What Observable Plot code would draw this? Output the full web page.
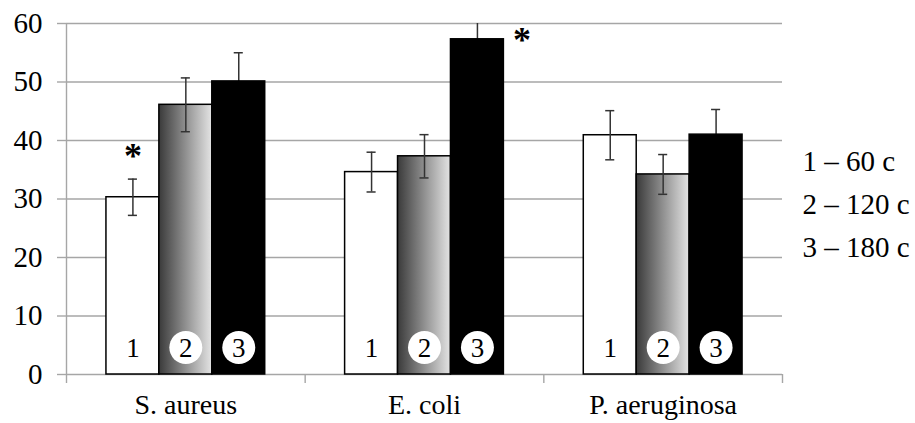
<!DOCTYPE html>
<html><head><meta charset="utf-8">
<script src="https://cdn.jsdelivr.net/npm/d3@7"></script>
<script src="https://cdn.jsdelivr.net/npm/@observablehq/plot@0.6"></script>
<style>body{margin:0;background:#fff}</style>
</head><body><div id="chart"></div>
<script>
const categories = ["S. aureus", "E. coli", "P. aeruginosa"];
const seriesKeys = [1, 2, 3];
const seriesLabels = ["1 – 60 c", "2 – 120 c", "3 – 180 c"];
const mean60 = [30.3, 34.6, 40.9];
const mean120 = [46.1, 37.3, 34.2];
const mean180 = [50.1, 57.3, 41.0];
const err60 = [3.1, 3.4, 4.2];
const err120 = [4.6, 3.7, 3.4];
const err180 = [4.9, 3.5, 4.3];
const yTicks = [0, 10, 20, 30, 40, 50, 60];
const stars = [["S. aureus", 1], ["E. coli", 3]];

const means = [mean60, mean120, mean180];
const errs = [err60, err120, err180];
const rows = seriesKeys.flatMap((s, si) => categories.map((c, ci) => ({
  category: c, ci, series: s, value: means[si][ci], err: errs[si][ci]
})));

const GAP = 40 / 239, BW = 53 / 239, CAP = 0.019;
const bx1 = d => d.ci + GAP + (d.series - 1) * BW;
const bx2 = d => bx1(d) + BW;
const bxc = d => bx1(d) + BW / 2;
const bySeries = s => rows.filter(d => d.series === s);
const grid = "#a6a6a6";
const serif = "Liberation Serif";
const starRows = stars.map(([c, s]) => rows.find(r => r.category === c && r.series === s));

const svg = Plot.plot({
  width: 915, height: 423,
  marginLeft: 66, marginRight: 133, marginTop: 23, marginBottom: 49,
  style: {fontFamily: serif, fontSize: "29px"},
  x: {domain: [0, 3], axis: null},
  y: {domain: [0, 60], axis: null},
  marks: [
    Plot.gridY(yTicks, {stroke: grid, strokeOpacity: 1, strokeWidth: 1.4}),
    Plot.ruleX([0], {stroke: grid, strokeWidth: 1.4}),
    Plot.axisY(yTicks, {tickSize: 9, tickPadding: 15, fontSize: 29, stroke: grid, strokeWidth: 1.4, fill: "black", label: null}),
    Plot.axisX([0, 1, 2, 3], {tickSize: 9, tickFormat: () => "", stroke: grid, strokeWidth: 1.4, label: null}),
    Plot.axisX([0.5, 1.5, 2.5], {tickSize: 0, tickPadding: 20, tickFormat: d => categories[Math.floor(d)], fontSize: 28, fill: "black", label: null}),
    Plot.rect(bySeries(1), {x1: bx1, x2: bx2, y1: 0, y2: "value", fill: "white", stroke: "black", strokeWidth: 1.5}),
    Plot.rect(bySeries(2), {x1: bx1, x2: bx2, y1: 0, y2: "value", fill: "url(#grad120)", stroke: "black", strokeWidth: 1.5}),
    Plot.ruleX(rows, {x: bxc, y1: d => d.value - d.err, y2: d => d.value + d.err, stroke: "#333", strokeWidth: 1.5, clip: true}),
    Plot.ruleY(rows, {y: d => d.value + d.err, x1: d => bxc(d) - CAP, x2: d => bxc(d) + CAP, stroke: "#333", strokeWidth: 1.5, clip: true}),
    Plot.ruleY(rows, {y: d => d.value - d.err, x1: d => bxc(d) - CAP, x2: d => bxc(d) + CAP, stroke: "#333", strokeWidth: 1.5, clip: true}),
    Plot.rect(bySeries(3), {x1: bx1, x2: bx2, y1: 0, y2: "value", fill: "black", stroke: "black", strokeWidth: 1.5}),
    Plot.dot(rows.filter(d => d.series > 1), {x: bxc, frameAnchor: "bottom", dy: -27, r: 16.5, fill: "white", stroke: "none"}),
    Plot.text(rows, {x: bxc, text: "series", frameAnchor: "bottom", lineAnchor: "bottom", dy: -18, fontSize: 27, fill: "black"}),
    Plot.text([starRows[0]], {x: bxc, y: d => d.value + d.err, text: () => "*", lineAnchor: "bottom", dy: -11, fontSize: 36, fontWeight: "bold", fill: "black"}),
    Plot.text([starRows[1]], {x: bx2, y: "value", text: () => "*", lineAnchor: "bottom", dx: 18, dy: 13, fontSize: 36, fontWeight: "bold", fill: "black"}),
    Plot.text([seriesLabels.join("\n")], {text: d => d, frameAnchor: "right", textAnchor: "start", dx: 20, dy: 1.5, lineHeight: 1.48, fontSize: 29, fill: "black"})
  ]
});
svg.setAttribute("font-family", serif);
d3.select(svg).insert("defs", ":first-child").html(
  '<linearGradient id="grad120" x1="0" x2="1" y1="0" y2="0"><stop offset="0" stop-color="#3a3a3a"/><stop offset="1" stop-color="#e4e4e4"/></linearGradient>'
);
document.getElementById("chart").appendChild(svg);
</script>
</body></html>
